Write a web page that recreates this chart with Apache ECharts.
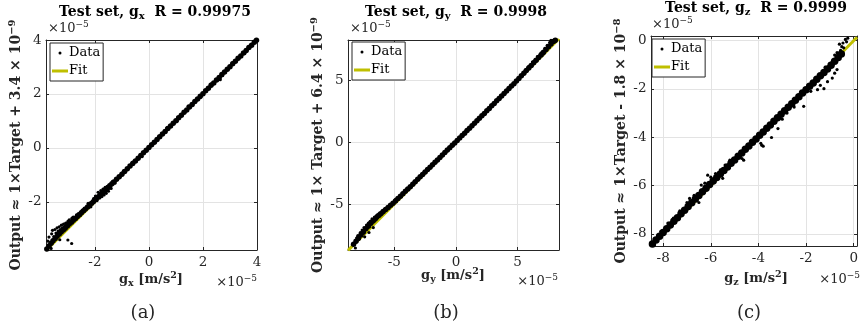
<!DOCTYPE html>
<html><head><meta charset="utf-8">
<script src="https://cdn.jsdelivr.net/npm/echarts@6/dist/echarts.min.js"></script>
<style>html,body{margin:0;padding:0;background:#fff}#c{width:861px;height:333px}</style>
</head><body><div id="c"></div>
<script>
// All values in units of 1e-5 m/s^2, pairs are [target, output]
const gxCore = [[-3.78,-3.74],[-3.70,-3.63],[-3.62,-3.53],[-3.55,-3.44],[-3.47,-3.35],[-3.40,-3.27],[-3.32,-3.19],[-3.25,-3.11],[-3.17,-3.04],[-3.10,-2.97],[-3.02,-2.89],[-2.95,-2.82],[-2.87,-2.75],[-2.80,-2.68],[-2.72,-2.61],[-2.65,-2.54],[-2.57,-2.47],[-2.50,-2.40],[-2.42,-2.33],[-2.35,-2.26],[-2.27,-2.19],[-2.20,-2.12],[-2.12,-2.05],[-2.05,-1.98],[-1.97,-1.90],[-1.90,-1.83],[-1.82,-1.76],[-1.75,-1.69],[-1.67,-1.62],[-1.60,-1.54],[-1.52,-1.47],[-1.45,-1.40],[-1.37,-1.33],[-1.30,-1.26],[-1.20,-1.16],[-1.10,-1.07],[-1.00,-0.97],[-0.90,-0.87],[-0.80,-0.77],[-0.70,-0.67],[-0.60,-0.58],[-0.50,-0.48],[-0.40,-0.38],[-0.30,-0.28],[-0.20,-0.18],[-0.10,-0.08],[0.00,0.02],[0.10,0.12],[0.20,0.21],[0.30,0.31],[0.40,0.42],[0.50,0.52],[0.60,0.61],[0.70,0.72],[0.80,0.81],[0.90,0.92],[1.00,1.01],[1.10,1.12],[1.20,1.21],[1.30,1.32],[1.40,1.41],[1.50,1.52],[1.60,1.61],[1.70,1.72],[1.80,1.81],[1.90,1.92],[2.00,2.01],[2.10,2.12],[2.20,2.21],[2.30,2.32],[2.40,2.41],[2.50,2.52],[2.60,2.61],[2.70,2.72],[2.80,2.81],[2.90,2.92],[3.00,3.01],[3.10,3.12],[3.20,3.21],[3.30,3.32],[3.40,3.41],[3.50,3.52],[3.60,3.61],[3.70,3.72],[3.80,3.81],[3.90,3.92],[3.98,3.99]];
const gxSpread = [[-3.74,-3.45],[-3.70,-3.30],[-3.66,-3.52],[-3.60,-3.18],[-3.57,-3.05],[-3.52,-3.28],[-3.48,-3.02],[-3.44,-3.15],[-3.40,-2.96],[-3.36,-3.08],[-3.32,-2.92],[-3.28,-3.02],[-3.24,-2.86],[-3.20,-2.96],[-3.16,-2.82],[-3.12,-2.90],[-3.08,-2.78],[-3.04,-2.86],[-3.00,-2.72],[-2.95,-2.66],[-2.90,-2.74],[-2.85,-2.60],[-2.80,-2.56],[-2.74,-2.58],[-2.68,-2.48],[-2.62,-2.44],[-2.56,-2.42],[-2.48,-2.32],[-2.40,-2.25],[-3.00,-3.41],[-2.86,-3.54],[-3.62,-3.72],[-3.30,-3.40],[-2.25,-2.05],[-2.15,-2.18],[-2.05,-1.88],[-1.98,-1.78],[-1.92,-1.95],[-1.88,-1.64],[-1.82,-1.85],[-1.78,-1.58],[-1.74,-1.80],[-1.70,-1.52],[-1.66,-1.74],[-1.62,-1.46],[-1.58,-1.68],[-1.54,-1.42],[-1.50,-1.60],[-1.45,-1.36],[-1.40,-1.50],[-1.35,-1.25],[-1.25,-1.30],[-0.95,-0.86],[-0.60,-0.52],[-0.25,-0.32],[0.35,0.40],[0.66,0.74],[1.05,1.00],[1.45,1.55],[1.90,1.86],[2.30,2.38],[2.64,2.53],[2.72,2.68],[3.10,3.16],[3.55,3.50]];
const gxFit = [[-3.81,-3.80],[4.00,4.00]];

const gyCore = [[-8.30,-8.25],[-8.10,-8.00],[-7.90,-7.75],[-7.70,-7.50],[-7.50,-7.25],[-7.30,-7.00],[-7.10,-6.80],[-6.90,-6.55],[-6.70,-6.35],[-6.50,-6.15],[-6.30,-5.95],[-6.10,-5.78],[-5.90,-5.60],[-5.70,-5.45],[-5.50,-5.28],[-5.30,-5.10],[-5.10,-4.93],[-4.90,-4.75],[-4.70,-4.56],[-4.50,-4.37],[-4.30,-4.18],[-4.10,-3.98],[-3.90,-3.79],[-3.70,-3.60],[-3.50,-3.40],[-3.30,-3.20],[-3.10,-3.01],[-2.90,-2.81],[-2.70,-2.62],[-2.50,-2.42],[-2.30,-2.22],[-2.10,-2.03],[-1.90,-1.83],[-1.70,-1.63],[-1.50,-1.44],[-1.30,-1.24],[-1.10,-1.05],[-0.90,-0.85],[-0.70,-0.65],[-0.50,-0.46],[-0.30,-0.26],[-0.10,-0.07],[0.10,0.13],[0.30,0.32],[0.50,0.52],[0.70,0.71],[0.90,0.92],[1.10,1.11],[1.30,1.32],[1.50,1.51],[1.70,1.72],[1.90,1.91],[2.10,2.12],[2.30,2.31],[2.50,2.52],[2.70,2.71],[2.90,2.92],[3.10,3.11],[3.30,3.32],[3.50,3.51],[3.70,3.72],[3.90,3.91],[4.10,4.12],[4.30,4.31],[4.50,4.52],[4.70,4.71],[4.90,4.93],[5.10,5.13],[5.30,5.34],[5.50,5.55],[5.70,5.76],[5.90,5.97],[6.10,6.18],[6.30,6.39],[6.50,6.60],[6.70,6.82],[6.90,7.03],[7.10,7.25],[7.30,7.46],[7.50,7.68],[7.70,7.90],[7.90,8.10],[8.05,8.20]];
const gySpread = [[-8.15,-8.55],[-8.05,-7.75],[-7.95,-7.55],[-7.85,-7.85],[-7.75,-7.30],[-7.70,-7.55],[-7.60,-7.10],[-7.50,-7.35],[-7.45,-6.90],[-7.35,-7.05],[-7.25,-6.70],[-7.20,-6.95],[-7.10,-6.55],[-7.00,-6.75],[-6.95,-6.40],[-6.85,-6.60],[-6.80,-6.20],[-6.70,-6.45],[-6.60,-6.05],[-6.50,-6.30],[-6.45,-5.95],[-6.35,-6.10],[-6.25,-5.80],[-6.15,-5.95],[-6.05,-5.65],[-5.95,-5.75],[-5.85,-5.50],[-5.70,-5.40],[-5.55,-5.25],[-7.40,-7.65],[-7.05,-7.30],[-6.70,-6.90],[-4.90,-4.62],[-4.50,-4.30],[-4.00,-3.80],[-3.40,-3.22],[-2.60,-2.45],[-1.60,-1.50],[-0.40,-0.30],[0.80,0.88],[1.80,1.88],[2.80,2.90],[3.60,3.72],[4.40,4.50],[5.60,5.75],[5.90,6.10],[6.20,6.45],[6.40,6.62],[6.60,6.90],[6.75,6.95],[6.90,7.20],[7.05,7.30],[7.20,7.55],[7.30,7.50],[7.40,7.80],[7.50,7.70],[7.60,8.05],[7.70,8.20],[7.75,7.95],[7.85,8.15],[7.95,8.22],[8.05,8.10],[7.10,7.10],[6.50,6.55]];
const gyFit = [[-8.75,-8.74],[8.35,8.33]];

const gzCore = [[-8.45,-8.42],[-8.30,-8.25],[-8.15,-8.10],[-8.00,-7.94],[-7.85,-7.79],[-7.70,-7.63],[-7.55,-7.48],[-7.40,-7.33],[-7.25,-7.17],[-7.10,-7.02],[-6.95,-6.87],[-6.80,-6.71],[-6.65,-6.56],[-6.50,-6.41],[-6.35,-6.26],[-6.20,-6.11],[-6.05,-5.96],[-5.90,-5.81],[-5.75,-5.67],[-5.60,-5.52],[-5.45,-5.38],[-5.30,-5.23],[-5.15,-5.08],[-5.00,-4.94],[-4.85,-4.79],[-4.70,-4.65],[-4.55,-4.50],[-4.40,-4.36],[-4.25,-4.21],[-4.10,-4.07],[-3.95,-3.92],[-3.80,-3.78],[-3.65,-3.63],[-3.50,-3.49],[-3.35,-3.34],[-3.20,-3.19],[-3.05,-3.05],[-2.90,-2.90],[-2.75,-2.76],[-2.60,-2.61],[-2.45,-2.47],[-2.30,-2.32],[-2.15,-2.17],[-2.00,-2.03],[-1.85,-1.89],[-1.70,-1.75],[-1.55,-1.60],[-1.40,-1.45],[-1.25,-1.32],[-1.10,-1.18],[-0.95,-1.02],[-0.80,-0.86],[-0.65,-0.70],[-0.52,-0.55]];
const gzSpread = [[-7.57,-7.35],[-7.30,-7.05],[-7.00,-6.70],[-6.89,-6.53],[-6.70,-6.40],[-6.40,-5.98],[-6.25,-5.90],[-6.13,-5.57],[-6.00,-5.65],[-5.80,-5.50],[-5.60,-5.35],[-5.40,-5.15],[-5.20,-4.95],[-7.80,-7.55],[-8.10,-7.90],[-4.62,-4.95],[-4.69,-4.88],[-3.86,-4.33],[-3.90,-4.25],[-3.80,-4.37],[-3.45,-4.01],[-3.18,-3.64],[-2.10,-2.72],[-1.52,-2.03],[-1.25,-1.99],[-1.40,-1.85],[-1.10,-1.70],[-0.90,-1.55],[-0.80,-1.35],[-0.70,-1.20],[-5.50,-5.70],[-6.50,-6.70],[-2.50,-2.75],[-2.80,-3.00],[-3.00,-3.25],[-1.80,-2.10],[-0.37,0.20],[-0.35,0.05],[-0.45,-0.10],[-0.50,-0.25],[-0.55,-0.40],[-0.60,-0.15],[-0.70,-0.50],[-0.80,-0.60],[-0.30,-0.05],[-0.25,0.10],[-0.65,-0.70],[-0.90,-0.85],[-1.00,-0.95],[-1.20,-1.10],[-1.30,-1.45],[-1.60,-1.55],[-0.42,-0.30],[-0.52,-0.60]];
const gzFit = [[-8.51,-8.51],[0.14,0.14]];

// axis limits and tick steps (units 1e-5)
const xLimits = [[-3.81, 4.00], [-8.75, 8.35], [-8.51, 0.14]];
const yLimits = [[-3.78, 4.00], [-8.71, 8.23], [-8.50, 0.19]];
const tickSteps = [2, 5, 2];

// texts
const axisSub = ['x', 'y', 'z'];
const rValues = ['0.99975', '0.9998', '0.9999'];
const yLabelMain = ['Output ≈ 1×Target + 3.4 × 10', 'Output ≈ 1× Target + 6.4 × 10', 'Output ≈ 1×Target - 1.8 × 10'];
const yLabelExp = ['−9', '−9', '−8'];
const panelTags = ['(a)', '(b)', '(c)'];
const scaleExp = '−5';

const FONT = "'DejaVu Serif', serif";
const INK = '#262626';
const GRIDC = '#e3e3e3';
const FITC = '#bfbf00';

const cores = [gxCore, gyCore, gzCore];
const spreads = [gxSpread, gySpread, gzSpread];
const fits = [gxFit, gyFit, gzFit];
const coreSize = [5.5, 5.5, 7.5];

const grids = [
  {left: 46, top: 40, width: 211, height: 210},
  {left: 348, top: 40, width: 211, height: 210},
  {left: 651, top: 36, width: 209, height: 210}
];
const layout = [
  {title: [155, 12], xlab: [151, 280], ylab: [16, 145], expTop: [48, 29], expBot: [257, 283], tag: [143, 313], legend: [50, 43]},
  {title: [456, 12], xlab: [453, 276], ylab: [318, 145], expTop: [350, 29], expBot: [558, 282], tag: [446, 313], legend: [352, 42]},
  {title: [756, 8], xlab: [756, 279], ylab: [621, 141], expTop: [652, 25], expBot: [860, 280], tag: [749, 313], legend: [652, 39]}
];

function isMult(v, s) { return Math.abs(v / s - Math.round(v / s)) < 1e-9; }

function mkAxis(gi, lim, step, pos, main) {
  return {
    type: 'value', gridIndex: gi, position: pos, min: lim[0], max: lim[1],
    minInterval: step, maxInterval: step, splitNumber: 4,
    axisLine: {show: true, onZero: false, lineStyle: {color: INK, width: 1}},
    axisTick: {show: true, inside: true, length: 3, lineStyle: {color: INK, width: 1}},
    axisLabel: {show: main, showMinLabel: isMult(lim[0], step), showMaxLabel: isMult(lim[1], step),
      color: INK, fontFamily: FONT, fontSize: 13.5, margin: (pos === 'left' ? 4.5 : 5.5)},
    splitLine: {show: main, lineStyle: {color: GRIDC, width: 1}}
  };
}

const xAxes = [], yAxes = [], series = [], legends = [], graphics = [];
const rich = {
  t: {fontFamily: FONT, fontWeight: 'bold', fontSize: 14, lineHeight: 18, fill: '#000', color: '#000'},
  ts: {fontFamily: FONT, fontWeight: 'bold', fontSize: 10, lineHeight: 10, verticalAlign: 'bottom', fill: '#000', color: '#000'},
  b: {fontFamily: FONT, fontWeight: 'bold', fontSize: 13, lineHeight: 18, fill: INK, color: INK},
  bs: {fontFamily: FONT, fontWeight: 'bold', fontSize: 9.5, lineHeight: 10, verticalAlign: 'bottom', fill: INK, color: INK},
  bp: {fontFamily: FONT, fontWeight: 'bold', fontSize: 9.5, lineHeight: 10, verticalAlign: 'top', fill: INK, color: INK},
  y: {fontFamily: FONT, fontWeight: 'bold', fontSize: 14, lineHeight: 18, fill: INK, color: INK},
  yp: {fontFamily: FONT, fontWeight: 'bold', fontSize: 10, lineHeight: 10, verticalAlign: 'top', fill: INK, color: INK},
  n: {fontFamily: FONT, fontSize: 13, lineHeight: 18, fill: INK, color: INK},
  np: {fontFamily: FONT, fontSize: 9, lineHeight: 9, verticalAlign: 'top', fill: INK, color: INK}
};

function textEl(pos, text, align, rot) {
  return {type: 'text', x: pos[0], y: pos[1], rotation: rot || 0, silent: true, z: 100,
    style: {text: text, rich: rich, align: align, verticalAlign: 'middle', fontFamily: FONT, fill: INK}};
}

for (let i = 0; i < 3; i++) {
  const L = layout[i];
  xAxes.push(mkAxis(i, xLimits[i], tickSteps[i], 'bottom', true));
  xAxes.push(mkAxis(i, xLimits[i], tickSteps[i], 'top', false));
  yAxes.push(mkAxis(i, yLimits[i], tickSteps[i], 'left', true));
  yAxes.push(mkAxis(i, yLimits[i], tickSteps[i], 'right', false));
  series.push({type: 'line', name: 'Fit', xAxisIndex: 2 * i, yAxisIndex: 2 * i, data: fits[i],
    symbol: 'none', color: FITC, lineStyle: {color: FITC, width: 3}, itemStyle: {color: FITC}, z: 1, silent: true, clip: true});
  series.push({type: 'scatter', name: 'Data', xAxisIndex: 2 * i, yAxisIndex: 2 * i, data: cores[i],
    symbol: 'circle', symbolSize: coreSize[i], itemStyle: {color: '#000', opacity: 1}, color: '#000', z: 3, silent: true});
  series.push({type: 'scatter', name: 'Data', xAxisIndex: 2 * i, yAxisIndex: 2 * i, data: spreads[i],
    symbol: 'circle', symbolSize: 3.2, itemStyle: {color: '#000', opacity: 1}, color: '#000', z: 3, silent: true});
  legends.push({
    left: L.legend[0], top: L.legend[1], orient: 'vertical', selectedMode: false,
    itemWidth: 16, itemHeight: 3, itemGap: 2, padding: [2, 3, 2, 2],
    borderColor: INK, borderWidth: 1, backgroundColor: '#fff', z: 50,
    textStyle: {fontFamily: FONT, fontSize: 13, color: '#000', lineHeight: 16, padding: [0, 0, 0, -4]},
    data: [{name: 'Data', icon: 'circle', itemStyle: {color: '#000', opacity: 1}}, {name: 'Fit', icon: 'rect', itemStyle: {color: FITC}}]
  });
  graphics.push(textEl(L.title, '{t|Test set, g}{ts|' + axisSub[i] + '}{t|  R = ' + rValues[i] + '}', 'center'));
  graphics.push(textEl(L.xlab, '{b|g}{bs|' + axisSub[i] + '}{b| [m/s}{bp|2}{b|]}', 'center'));
  graphics.push(textEl(L.ylab, '{y|' + yLabelMain[i] + '}{yp|' + yLabelExp[i] + '}', 'center', Math.PI / 2));
  graphics.push(textEl(L.expTop, '{n|×10}{np|' + scaleExp + '}', 'left'));
  graphics.push(textEl(L.expBot, '{n|×10}{np|' + scaleExp + '}', 'right'));
  graphics.push({type: 'text', x: L.tag[0], y: L.tag[1], silent: true,
    style: {text: panelTags[i], fontFamily: FONT, fontSize: 18, fill: INK, align: 'center', verticalAlign: 'middle'}});
}

const chart = echarts.init(document.getElementById('c'), null, {renderer: 'canvas'});
chart.setOption({
  animation: false,
  backgroundColor: '#fff',
  grid: grids.map(g => Object.assign({containLabel: false, show: false}, g)),
  xAxis: xAxes,
  yAxis: yAxes,
  legend: legends,
  series: series,
  graphic: graphics
});
</script></body></html>
